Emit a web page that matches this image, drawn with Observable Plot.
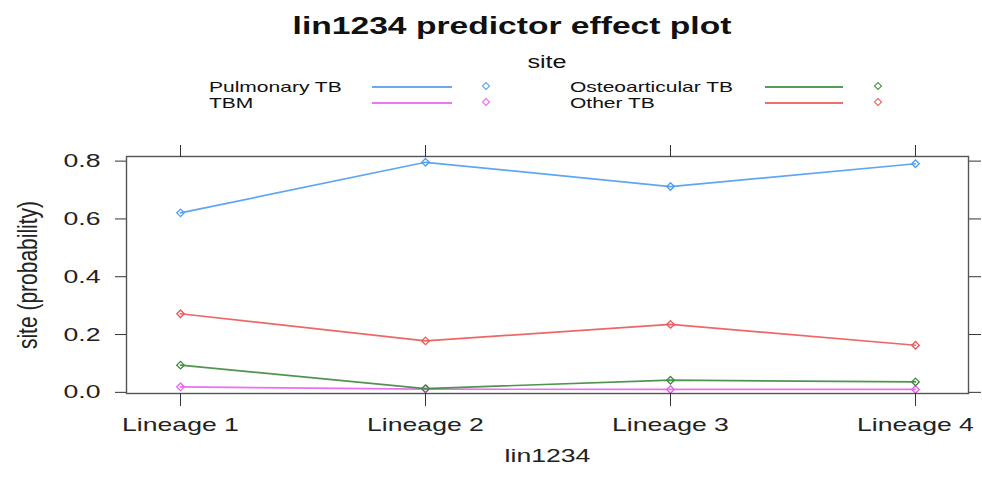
<!DOCTYPE html>
<html>
<head>
<meta charset="utf-8">
<script src="https://cdn.jsdelivr.net/npm/d3@7"></script>
<script src="https://cdn.jsdelivr.net/npm/@observablehq/plot@0.6"></script>
<style>
  body { margin: 0; background: white; font-family: "Liberation Sans", Arial, Helvetica, sans-serif; color: #111; }
  #wrap { width: 982px; }
  #header { position: relative; width: 982px; height: 130px; }
  .t { position: absolute; white-space: nowrap; line-height: 1; }
  .title { font-weight: bold; font-size: 24px; transform: translateX(-50%) scaleX(1.4); }
  .keytitle { font-size: 18px; transform: translateX(-50%) scaleX(1.4); }
  .keytext { font-size: 15px; transform: scaleX(1.4); transform-origin: left center; }
  .keyline { position: absolute; height: 2px; opacity: 0.85; }
  .keysym { position: absolute; width: 4px; height: 4px; border: 1.2px solid; background: white; transform: rotate(45deg); }
</style>
</head>
<body>
<div id="wrap">
  <div id="header"></div>
  <div id="chart"></div>
</div>
<script>
// ---- data ----
const lineages = ["Lineage 1", "Lineage 2", "Lineage 3", "Lineage 4"];
const sites = ["Pulmonary TB", "TBM", "Osteoarticular TB", "Other TB"];
const pulmonaryTB = [0.621, 0.796, 0.712, 0.791];
const tbm = [0.019, 0.011, 0.010, 0.010];
const osteoarticularTB = [0.094, 0.013, 0.042, 0.036];
const otherTB = [0.272, 0.178, 0.235, 0.163];
const yTicks = [0, 0.2, 0.4, 0.6, 0.8];
const siteColors = ["#4d9cf2", "#ea5ef0", "#3c8a3c", "#ec5656"];
const titleText = "lin1234 predictor effect plot";
const keyTitle = "site";
const xLabel = "lin1234";
const yLabel = "site (probability)";

const seriesValues = [pulmonaryTB, tbm, osteoarticularTB, otherTB];
const rows = [];
sites.forEach((s, j) => lineages.forEach((l, i) => rows.push({site: s, lineage: l, p: seriesValues[j][i]})));

// ---- header: title + key ----
const header = document.getElementById("header");
function add(cls, text, style) {
  const d = document.createElement("div");
  d.className = cls;
  if (text != null) d.textContent = text;
  Object.assign(d.style, style);
  header.appendChild(d);
  return d;
}
add("t title", titleText, {left: "512px", top: "14px"});
add("t keytitle", keyTitle, {left: "547px", top: "53px"});
// key layout: column-wise, 2 columns
const keyCols = [{text: 209, line: 372, lineW: 80, sym: 486}, {text: 570, line: 765, lineW: 78, sym: 878}];
const keyRows = [{top: 79.3, mid: 86.5}, {top: 95.3, mid: 102.5}];
sites.forEach((s, k) => {
  const c = keyCols[Math.floor(k / 2)], r = keyRows[k % 2], col = siteColors[k];
  add("t keytext", s, {left: c.text + "px", top: r.top + "px"});
  add("keyline", null, {left: c.line + "px", top: (r.mid - 1) + "px", width: c.lineW + "px", background: col});
  add("keysym", null, {left: (c.sym - 3.2) + "px", top: (r.mid - 3.2) + "px", borderColor: col});
});

// ---- chart ----
const chart = Plot.plot({
  width: 982,
  height: 347,
  marginTop: 26,
  marginBottom: 84,
  marginLeft: 126,
  marginRight: 14,
  style: {fontFamily: "'Liberation Sans', Arial, Helvetica, sans-serif", background: "white", color: "#222", overflow: "visible"},
  x: {type: "point", domain: lineages, padding: 0.218, label: null},
  y: {domain: [-0.004, 0.816], label: null},
  color: {type: "ordinal", domain: sites, range: siteColors},
  marks: [
    Plot.line(rows, {x: "lineage", y: "p", z: "site", stroke: "site", strokeWidth: 1.7, strokeOpacity: 0.9}),
    Plot.dot(rows, {x: "lineage", y: "p", stroke: "site", symbol: "diamond2", r: 3.4, strokeWidth: 1.3, fill: "none"}),
    Plot.frame({stroke: "#555", strokeWidth: 1.4}),
    Plot.axisY(yTicks, {anchor: "left", tickSize: 11, tickPadding: 15, tickFormat: d3.format(".1f"), fontSize: 19, label: null, stroke: "#333", fill: "#222"}),
    Plot.axisY(yTicks, {anchor: "right", tickSize: 12, label: null, stroke: "#333", fill: "none"}),
    Plot.axisX({anchor: "bottom", tickSize: 13, tickPadding: 11, fontSize: 19, label: null, stroke: "#333", fill: "#222"}),
    Plot.axisX({anchor: "top", tickSize: 12, label: null, stroke: "#333", fill: "none"}),
    Plot.text([xLabel], {frameAnchor: "bottom", dy: 68, fontSize: 19, fill: "#222"}),
    Plot.text([yLabel], {frameAnchor: "left", textAnchor: "middle", rotate: -90, dx: -98, fontSize: 21, fill: "#222"})
  ]
});
// widen text horizontally, as in the reference picture
chart.querySelectorAll("text").forEach(t => {
  let tr = t.getAttribute("transform");
  if (tr == null) {
    const x = t.getAttribute("x");
    if (x != null && !isNaN(+x)) { tr = `translate(${x},0)`; t.removeAttribute("x"); } else tr = "";
  }
  t.setAttribute("transform", tr + (tr.includes("rotate") ? " scale(1,1.3)" : " scale(1.4,1)"));
});
document.getElementById("chart").appendChild(chart);
</script>
</body>
</html>
